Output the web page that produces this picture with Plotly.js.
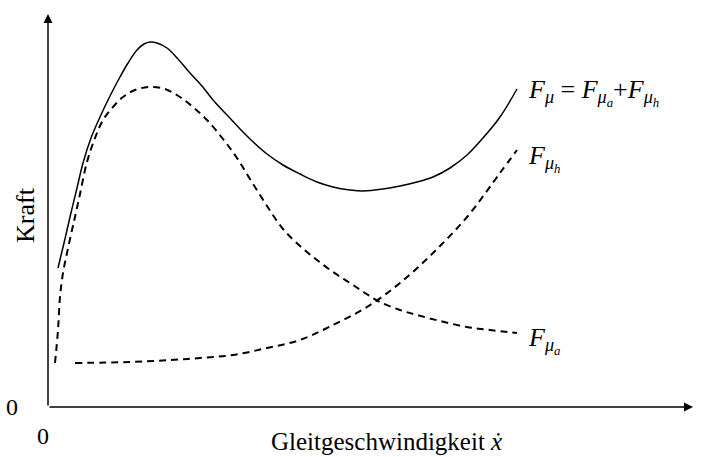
<!DOCTYPE html>
<html>
<head>
<meta charset="utf-8">
<script src="https://cdn.plot.ly/plotly-3.0.1.min.js"></script>
<style>
  html, body { margin: 0; padding: 0; background: #fff; }
  #chart { width: 702px; height: 457px; }
</style>
</head>
<body>
<div id="chart"></div>
<script>
// Sliding speed (arbitrary units) and friction force components (arbitrary units)
const xTotal = [10, 16, 22, 29, 35, 43, 52, 62, 72, 80, 89, 96, 102, 109, 119, 130, 142, 154, 165, 179, 192, 202, 219, 235, 252, 269, 285, 302, 315, 335, 352, 369, 385, 402, 419, 435, 452, 469];
const fTotal = [139, 164, 190, 219, 244, 269, 290, 311, 330, 344, 357, 363, 365, 364, 359, 348, 334, 321, 307, 292, 278, 268, 253, 242, 233, 225, 220, 217, 216, 218, 221, 225, 230, 239, 252, 269, 290, 318];

const xAdh = [7, 10, 12, 15, 19, 24, 27, 32, 39, 47, 55, 65, 75, 87, 102, 117, 132, 145, 159, 175, 189, 202, 219, 235, 252, 269, 285, 302, 317, 332, 352, 369, 392, 419, 442, 469];
const fAdh = [44, 77, 110, 134, 154, 177, 190, 213, 245, 269, 287, 300, 310, 317, 320, 318, 310, 300, 287, 268, 249, 228, 201, 178, 161, 147, 135, 124, 114, 105, 97, 92, 86, 80, 77, 74];

const xHyd = [27, 82, 122, 152, 185, 219, 252, 285, 319, 352, 385, 419, 452, 469];
const fHyd = [44, 45, 47, 49, 52, 59, 67, 82, 100, 124, 154, 190, 234, 257];

const xAxisTitle = 'Gleitgeschwindigkeit <i>ẋ</i>';
const yAxisTitle = 'Kraft';
const labelTotal = '<i>F</i><sub><i>μ</i></sub> = <i>F</i><sub><i>μ<sub>a</sub></i></sub>+<i>F</i><sub><i>μ<sub>h</sub></i></sub>';
const labelHyd = '<i>F</i><sub><i>μ<sub>h</sub></i></sub>';
const labelAdh = '<i>F</i><sub><i>μ<sub>a</sub></i></sub>';

const serif = 'Liberation Serif, Times New Roman, serif';
const ink = '#000';

const traces = [
  { x: xTotal, y: fTotal, mode: 'lines', line: { color: ink, width: 1.5, shape: 'spline', smoothing: 1 }, hoverinfo: 'skip' },
  { x: xAdh, y: fAdh, mode: 'lines', line: { color: ink, width: 2, dash: '7px,5px', shape: 'spline', smoothing: 1 }, hoverinfo: 'skip' },
  { x: xHyd, y: fHyd, mode: 'lines', line: { color: ink, width: 2, dash: '7px,5px', shape: 'spline', smoothing: 1 }, hoverinfo: 'skip' }
];

const xEnd = xTotal[xTotal.length - 1];
const txt = (text, x, y, opts) => Object.assign({
  text, x, y, xref: 'x', yref: 'y', showarrow: false,
  font: { family: serif, size: 26, color: ink }
}, opts || {});

const annotations = [
  // axis arrows
  { x: 645, y: 0, ax: 0, ay: 0, xref: 'x', yref: 'y', axref: 'x', ayref: 'y',
    showarrow: true, arrowhead: 2, arrowsize: 1.2, arrowwidth: 1.5, arrowcolor: ink, text: '' },
  { x: 0, y: 393, ax: 0, ay: 0, xref: 'x', yref: 'y', axref: 'x', ayref: 'y',
    showarrow: true, arrowhead: 2, arrowsize: 1.2, arrowwidth: 1.5, arrowcolor: ink, text: '' },
  // curve labels
  txt(labelTotal, xEnd + 9, 315, { xanchor: 'left', yanchor: 'middle' }),
  txt(labelHyd, xEnd + 9, 249, { xanchor: 'left', yanchor: 'middle' }),
  txt(labelAdh, xEnd + 9, 67, { xanchor: 'left', yanchor: 'middle' }),
  // origin labels
  txt('0', -36, 0, { xanchor: 'center', yanchor: 'middle', font: { family: serif, size: 24, color: ink } }),
  txt('0', -5, -29, { xanchor: 'center', yanchor: 'middle', font: { family: serif, size: 24, color: ink } }),
  // axis titles
  txt(xAxisTitle, 338, -34, { xanchor: 'center', yanchor: 'middle', font: { family: serif, size: 25, color: ink } }),
  txt(yAxisTitle, -23, 192, { xanchor: 'center', yanchor: 'middle', textangle: -90 })
];

const layout = {
  width: 702, height: 457,
  margin: { l: 0, r: 0, t: 0, b: 0 },
  paper_bgcolor: '#fff', plot_bgcolor: '#fff',
  showlegend: false,
  xaxis: { range: [-48, 654], showgrid: false, zeroline: false, showticklabels: false, ticks: '', showline: false, fixedrange: true },
  yaxis: { range: [-50, 407], showgrid: false, zeroline: false, showticklabels: false, ticks: '', showline: false, fixedrange: true },
  annotations
};

Plotly.newPlot('chart', traces, layout, { displayModeBar: false, staticPlot: true });
</script>
</body>
</html>
